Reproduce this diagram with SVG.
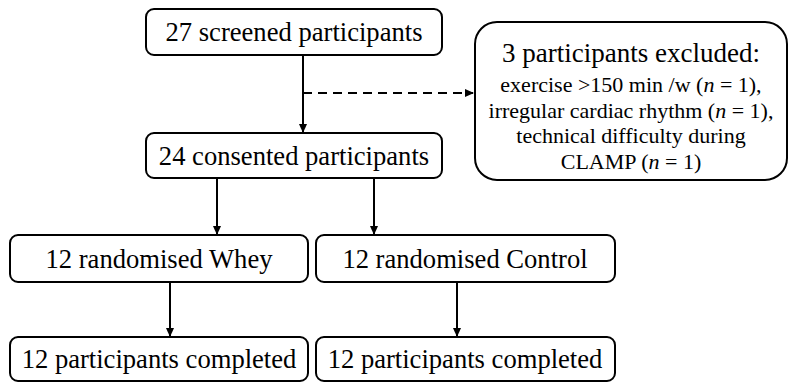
<svg xmlns="http://www.w3.org/2000/svg" width="790" height="382" viewBox="0 0 790 382">
<style>
.box{fill:#fff;stroke:#000;stroke-width:2}
.t{font-family:'Liberation Serif',Tinos,'Times New Roman','DejaVu Serif',serif;font-size:26.6px;text-anchor:middle;fill:#000}
.h{font-family:'Liberation Serif',Tinos,'Times New Roman','DejaVu Serif',serif;font-size:27px;text-anchor:middle;fill:#000}
.s{font-family:'Liberation Serif',Tinos,'Times New Roman','DejaVu Serif',serif;font-size:22px;text-anchor:middle;fill:#000}
.c{stroke:#000;stroke-width:2;fill:none}
</style>
<defs>
<marker id="ah" markerWidth="10" markerHeight="10" refX="8" refY="5" orient="auto" markerUnits="userSpaceOnUse">
<path d="M0,1 L9,5 L0,9 Z" fill="#000"/>
</marker>
</defs>
<g id="connectors">
<line class="c" x1="303" y1="55" x2="303" y2="132" marker-end="url(#ah)"/>
<line class="c" x1="303" y1="93" x2="473" y2="93" stroke-dasharray="9,6" marker-end="url(#ah)"/>
<line class="c" x1="217" y1="178" x2="217" y2="234" marker-end="url(#ah)"/>
<line class="c" x1="374" y1="178" x2="374" y2="234" marker-end="url(#ah)"/>
<line class="c" x1="170" y1="282" x2="170" y2="336" marker-end="url(#ah)"/>
<line class="c" x1="457" y1="282" x2="457" y2="336" marker-end="url(#ah)"/>
</g>
<g id="screened">
<rect class="box" x="146" y="9" width="296" height="46" rx="8"/>
<text class="t" x="294" y="41">27 screened participants</text>
</g>
<g id="excluded">
<rect class="box" x="475" y="22" width="312" height="158" rx="22"/>
<text class="h" x="631" y="62">3 participants excluded:</text>
<text class="s" x="631" y="92">exercise &gt;150 min /w (<tspan font-style="italic">n</tspan> = 1),</text>
<text class="s" x="631" y="118">irregular cardiac rhythm (<tspan font-style="italic">n</tspan> = 1),</text>
<text class="s" x="631" y="143">technical difficulty during</text>
<text class="s" x="631" y="169">CLAMP (<tspan font-style="italic">n</tspan> = 1)</text>
</g>
<g id="consented">
<rect class="box" x="146" y="133" width="296" height="45" rx="8"/>
<text class="t" x="294" y="165">24 consented participants</text>
</g>
<g id="whey">
<rect class="box" x="10" y="235" width="298" height="47" rx="8"/>
<text class="t" x="159" y="268">12 randomised Whey</text>
</g>
<g id="control">
<rect class="box" x="316" y="235" width="299" height="47" rx="8"/>
<text class="t" x="465" y="268">12 randomised Control</text>
</g>
<g id="whey-completed">
<rect class="box" x="10" y="337" width="298" height="44" rx="8"/>
<text class="t" x="159" y="368">12 participants completed</text>
</g>
<g id="control-completed">
<rect class="box" x="316" y="337" width="299" height="44" rx="8"/>
<text class="t" x="465" y="368">12 participants completed</text>
</g>
</svg>
